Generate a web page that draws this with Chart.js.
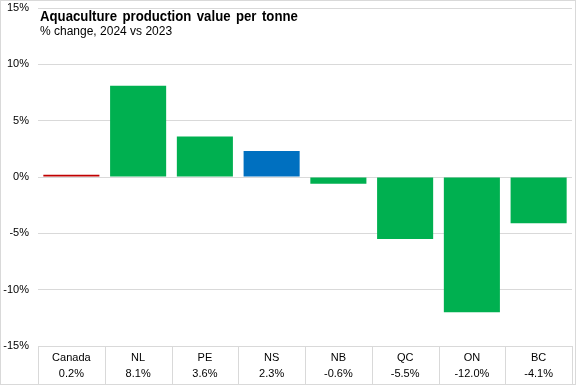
<!DOCTYPE html>
<html>
<head>
<meta charset="utf-8">
<script src="https://cdn.jsdelivr.net/npm/chart.js@4/dist/chart.umd.min.js"></script>
<style>
  html, body { margin: 0; padding: 0; background: #fff; }
  #wrap { position: relative; width: 576px; height: 385px; box-sizing: border-box; border: 1px solid #d9d9d9; }
  #c { display: block; }
  #title { position: absolute; left: 39px; top: 6px; font: bold 15px "Liberation Sans", Arial, sans-serif; color: #000; white-space: nowrap; transform: scaleX(0.88); transform-origin: left top; word-spacing: 2px; }
  #subtitle { position: absolute; left: 39px; top: 23px; font: 12px "Liberation Sans", Arial, sans-serif; color: #000; white-space: nowrap; }
</style>
</head>
<body>
<div id="wrap">
  <canvas id="c" width="574" height="383"></canvas>
  <div id="title">Aquaculture production value per tonne</div>
  <div id="subtitle">% change, 2024 vs 2023</div>
</div>
<script>
const categories = ["Canada", "NL", "PE", "NS", "NB", "QC", "ON", "BC"];
const values = [0.2, 8.1, 3.6, 2.3, -0.6, -5.5, -12.0, -4.1];
const valueLabels = ["0.2%", "8.1%", "3.6%", "2.3%", "-0.6%", "-5.5%", "-12.0%", "-4.1%"];
const barColors = ["#c00000", "#00b050", "#00b050", "#0070c0", "#00b050", "#00b050", "#00b050", "#00b050"];
const yTicks = [-15, -10, -5, 0, 5, 10, 15];

const labels = categories.map((c, i) => [c, valueLabels[i]]);

const separators = {
  id: "separators",
  afterDraw(chart) {
    const ctx = chart.ctx, a = chart.chartArea;
    const n = chart.data.labels.length;
    const w = (a.right - a.left) / n;
    ctx.save();
    ctx.strokeStyle = "#d9d9d9";
    ctx.lineWidth = 1;
    for (let i = 0; i <= n; i++) {
      const px = Math.round(a.left + i * w) + 0.5;
      ctx.beginPath();
      ctx.moveTo(px, a.bottom);
      ctx.lineTo(px, chart.height);
      ctx.stroke();
    }
    ctx.restore();
  }
};

new Chart(document.getElementById("c"), {
  type: "bar",
  data: {
    labels: labels,
    datasets: [{
      data: values,
      backgroundColor: barColors,
      borderWidth: 0,
      categoryPercentage: 1.0,
      barPercentage: 0.84
    }]
  },
  options: {
    responsive: false,
    animation: false,
    layout: { padding: { top: 0, right: 3, bottom: 2, left: 1 } },
    plugins: { legend: { display: false }, tooltip: { enabled: false }, title: { display: false } },
    scales: {
      x: {
        offset: true,
        grid: { offset: true, drawOnChartArea: false, drawTicks: false },
        border: { display: false },
        afterFit: (axis) => { axis.height = 36; },
        ticks: {
          color: "#000",
          padding: 4,
          maxRotation: 0,
          autoSkip: false,
          font: { family: "'Liberation Sans', Arial, sans-serif", size: 11, lineHeight: 1.45 }
        }
      },
      y: {
        min: -15,
        max: 15,
        afterBuildTicks: (axis) => { axis.ticks = yTicks.map(v => ({ value: v })); },
        afterFit: (axis) => { axis.width = 36; axis.paddingTop = 7; axis.paddingBottom = 7; },
        grid: { color: "#d9d9d9", drawTicks: false, lineWidth: 1 },
        border: { display: false },
        ticks: {
          color: "#000",
          padding: 9,
          font: { family: "'Liberation Sans', Arial, sans-serif", size: 11 },
          callback: (v) => v + "%"
        }
      }
    }
  },
  plugins: [separators]
});
</script>
</body>
</html>
